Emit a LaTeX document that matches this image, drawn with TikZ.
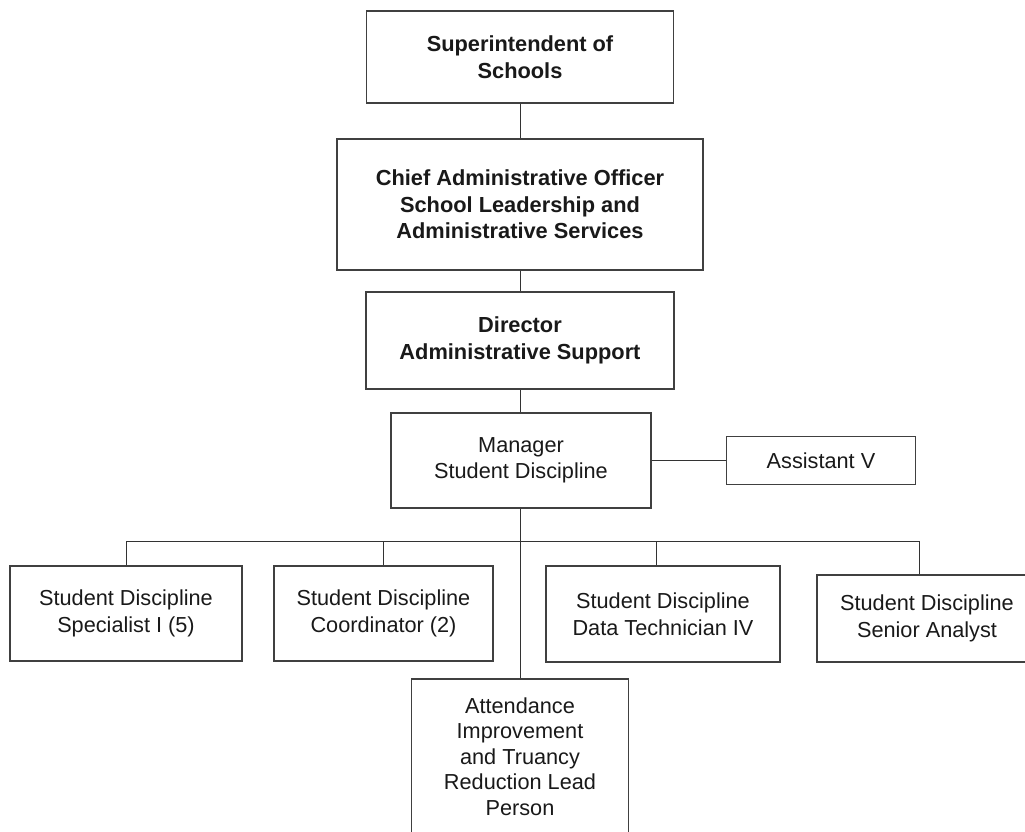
\documentclass[tikz,border=0pt]{standalone}
\usepackage{fontspec}
\setmainfont{Liberation Sans}
\usetikzlibrary{calc}

\begin{document}
\begin{tikzpicture}[x=1pt,y=-1pt,
    box/.style={draw=black!75,line width=1.1pt,align=center,inner sep=0pt,text=black!90,
      font=\fontsize{21.7}{26.5}\selectfont},
    bbox/.style={box,font=\fontsize{21.8}{26.5}\selectfont\bfseries},
    wire/.style={draw=black!80,line width=0.9pt}]
    \useasboundingbox (0,0) rectangle (1025,831);
    \node[bbox,minimum width=307pt,minimum height=92pt] (sup) at (520,57) {Superintendent of\\Schools};
    \node[bbox,minimum width=366pt,minimum height=131pt] (cao) at (520,204.5) {Chief Administrative Officer\\School Leadership and\\Administrative Services};
    \node[bbox,minimum width=308pt,minimum height=97pt] (dir) at (520,340.5) {Director\\Administrative Support};
    \node[box,minimum width=260pt,minimum height=95pt] (mgr) at (521,460.5) {Manager\\Student Discipline};
    \node[box,minimum width=189pt,minimum height=48pt] (asst) at (821,460.5) {Assistant V};
    \node[box,minimum width=232pt,minimum height=95pt] (spec) at (126,613.5) {Student Discipline\\Specialist I (5)};
    \node[box,minimum width=219pt,minimum height=95pt] (coord) at (383.5,613.5) {Student Discipline\\Coordinator (2)};
    \node[box,minimum width=234pt,minimum height=96pt] (tech) at (663,614) {Student Discipline\\Data Technician IV};
    \node[box,minimum width=220pt,minimum height=87pt] (senior) at (927,618.5) {Student Discipline\\Senior Analyst};
    \node[box,minimum width=217pt,minimum height=155pt,font=\fontsize{21.7}{25.5}\selectfont] (att) at (520,756.5) {Attendance\\Improvement\\and Truancy\\Reduction Lead\\Person};
    \coordinate (bus) at (520,541);
    \draw[wire] (sup) -- (cao);
    \draw[wire] (cao) -- (dir);
    \draw[wire] (dir) -- (dir |- mgr.north);
    \draw[wire] (mgr) -- (asst);
    \draw[wire] (att.north |- mgr.south) -- (att);
    \draw[wire] (spec.north) |- (bus) -| ([xshift=-8pt]senior.north);
    \draw[wire] (coord.north) -- (coord.north |- bus);
    \draw[wire] ([xshift=-7pt]tech.north) -- ([xshift=-7pt]tech.north |- bus);
\end{tikzpicture}
\end{document}
